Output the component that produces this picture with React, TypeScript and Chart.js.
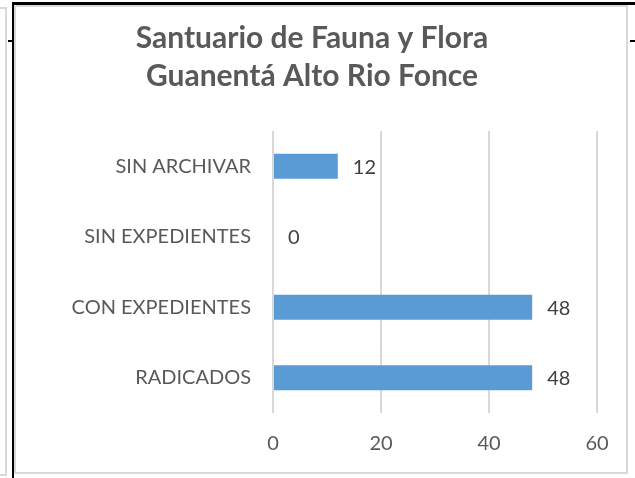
import React, { useEffect, useRef } from "react";
import { Chart, registerables } from "chart.js";

Chart.register(...registerables);

const categories = ["SIN ARCHIVAR", "SIN EXPEDIENTES", "CON EXPEDIENTES", "RADICADOS"];
const values = [12, 0, 48, 48];
const xMin = 0;
const xMax = 60;
const xStep = 20;
const titleLines = ["Santuario de Fauna y Flora", "Guanentá Alto Rio Fonce"];

const FONT = "Lato, 'Open Sans', sans-serif";
const BAR_COLOR = "#5B9BD5";
const TEXT_COLOR = "#595959";
const LABEL_COLOR = "#404040";
const GRID_COLOR = "#d9d9d9";

const titlePlugin = {
  id: "twoLineTitle",
  afterDraw(chart: any) {
    const ctx = chart.ctx;
    ctx.save();
    ctx.font = `bold 30px ${FONT}`;
    ctx.fillStyle = TEXT_COLOR;
    ctx.textAlign = "center";
    ctx.textBaseline = "alphabetic";
    ctx.fillText(titleLines[0], 312, 48);
    ctx.fillText(titleLines[1], 312, 86);
    ctx.restore();
  },
};

const valueLabelPlugin = {
  id: "valueLabels",
  afterDatasetsDraw(chart: any) {
    const ctx = chart.ctx;
    const meta = chart.getDatasetMeta(0);
    ctx.save();
    ctx.font = `20px ${FONT}`;
    ctx.fillStyle = LABEL_COLOR;
    ctx.textAlign = "left";
    ctx.textBaseline = "middle";
    meta.data.forEach((el: any, i: number) => {
      ctx.fillText(String(values[i]), el.x + 15, el.y + 1);
    });
    ctx.restore();
  },
};

function Line({ x, y, w, h, c }: { x: number; y: number; w: number; h: number; c: string }) {
  return (
    <div style={{ position: "absolute", left: x, top: y, width: w, height: h, background: c }} />
  );
}

export default function App() {
  const ref = useRef<HTMLCanvasElement | null>(null);

  useEffect(() => {
    if (!ref.current) return;
    const chart = new Chart(ref.current, {
      type: "bar",
      data: {
        labels: categories,
        datasets: [
          {
            data: values,
            backgroundColor: BAR_COLOR,
            borderWidth: 0,
            barPercentage: 1,
            categoryPercentage: 0.355,
          },
        ],
      },
      options: {
        indexAxis: "y",
        responsive: false,
        animation: false,
        layout: { padding: { left: 20, right: 38, top: 131, bottom: 5 } },
        plugins: {
          legend: { display: false },
          title: { display: false },
          tooltip: { enabled: false },
        },
        scales: {
          x: {
            min: xMin,
            max: xMax,
            ticks: {
              stepSize: xStep,
              font: { family: FONT, size: 20 },
              color: TEXT_COLOR,
              padding: 19,
            },
            grid: { color: GRID_COLOR, lineWidth: 2, drawTicks: false },
            border: { display: false },
            afterFit(scale: any) {
              scale.height = 60;
            },
          },
          y: {
            ticks: {
              font: { family: FONT, size: 20 },
              color: TEXT_COLOR,
              padding: 22,
            },
            grid: { display: false, drawTicks: false },
            border: { display: false },
            afterFit(scale: any) {
              scale.width = 253;
            },
          },
        },
      },
      plugins: [titlePlugin, valueLabelPlugin],
    } as any);
    return () => chart.destroy();
  }, []);

  return (
    <div
      style={{
        position: "fixed",
        left: 0,
        top: 0,
        width: 635,
        height: 478,
        background: "#ffffff",
        overflow: "hidden",
      }}
    >
      <canvas ref={ref} width={635} height={478} style={{ position: "absolute", left: 0, top: 0 }} />
      {/* neighbouring cell box on the left */}
      <Line x={0} y={7} w={7} h={2} c="#d9d9d9" />
      <Line x={5} y={7} w={2} h={469} c="#d9d9d9" />
      <Line x={0} y={474} w={7} h={2} c="#d9d9d9" />
      {/* black cell borders */}
      <Line x={12} y={2} w={623} h={3} c="#000000" />
      <Line x={12} y={2} w={2} h={476} c="#000000" />
      <Line x={8} y={40} w={4} h={2} c="#000000" />
      <Line x={630} y={40} w={5} h={2} c="#000000" />
      {/* chart frame */}
      <div
        style={{
          position: "absolute",
          left: 14,
          top: 5,
          width: 614,
          height: 469,
          border: "2px solid #d9d9d9",
          boxSizing: "border-box",
        }}
      />
    </div>
  );
}
